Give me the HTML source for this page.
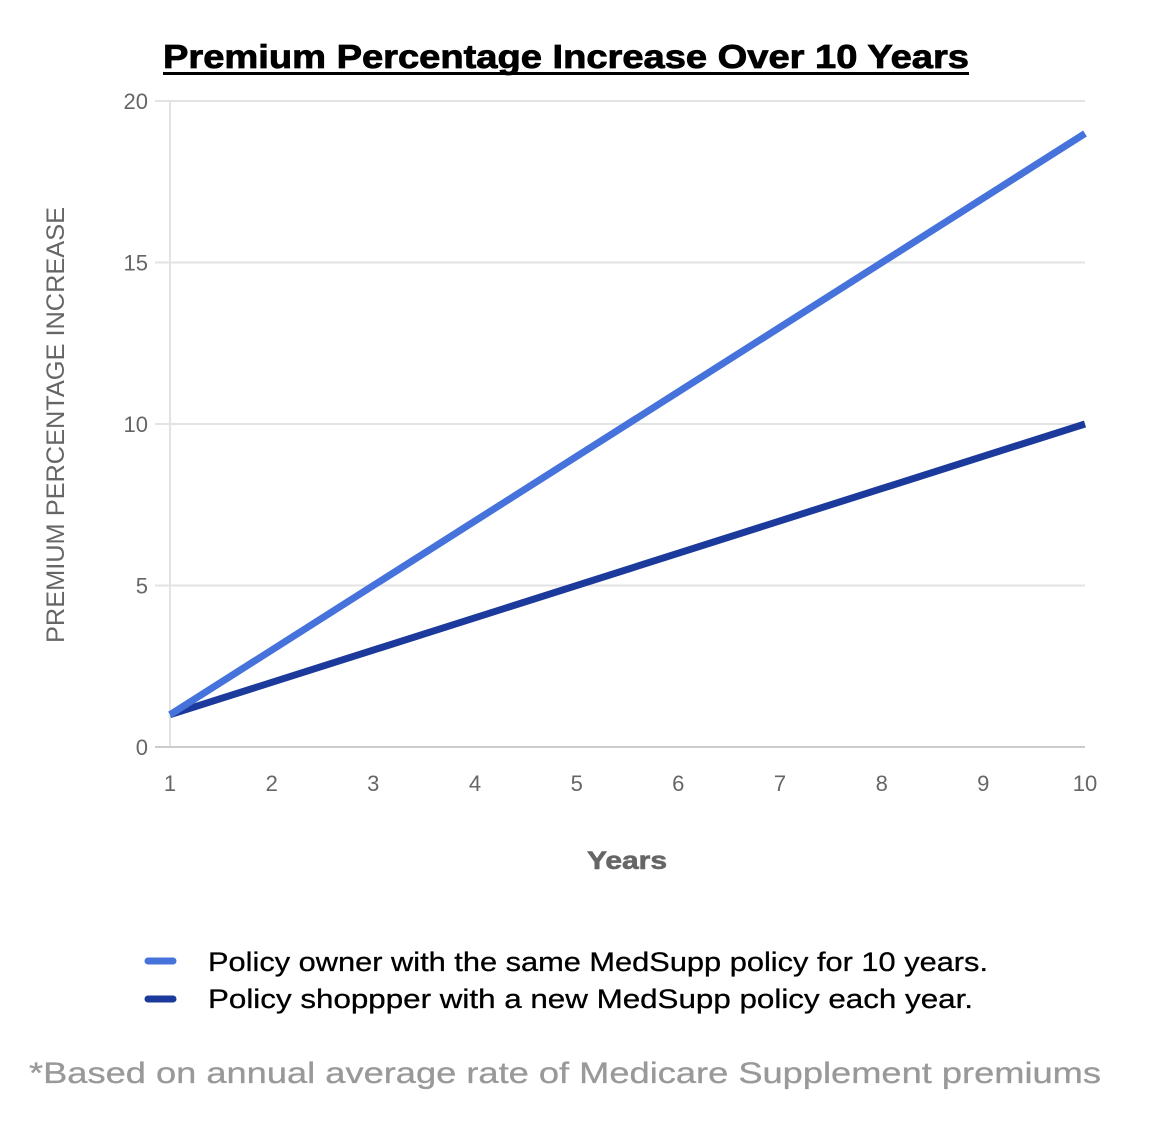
<!DOCTYPE html>
<html>
<head>
<meta charset="utf-8">
<style>
html,body{margin:0;padding:0;background:#fff;}
svg{display:block;}
text{font-family:"Liberation Sans",Arial,sans-serif;}
</style>
</head>
<body>
<svg width="1170" height="1134" viewBox="0 0 1170 1134" xmlns="http://www.w3.org/2000/svg">
<rect width="1170" height="1134" fill="#fff"/>
<!-- Title -->
<text x="163" y="68" font-size="33" font-weight="bold" fill="#000" stroke="#000" stroke-width="0.8" textLength="806" lengthAdjust="spacingAndGlyphs">Premium Percentage Increase Over 10 Years</text>
<line x1="163" y1="73.5" x2="969" y2="73.5" stroke="#000" stroke-width="3"/>

<!-- Gridlines -->
<g stroke="#e3e3e3" stroke-width="2">
<line x1="155" y1="101" x2="1085" y2="101"/>
<line x1="155" y1="262.5" x2="1085" y2="262.5"/>
<line x1="155" y1="424" x2="1085" y2="424"/>
<line x1="155" y1="585.5" x2="1085" y2="585.5"/>
<line x1="170" y1="101" x2="170" y2="747"/>
</g>
<line x1="155" y1="747" x2="1085" y2="747" stroke="#cccccc" stroke-width="2"/>

<!-- Y tick labels -->
<g font-size="22" fill="#666" text-anchor="end">
<text x="148" y="109">20</text>
<text x="148" y="270.5">15</text>
<text x="148" y="432">10</text>
<text x="148" y="593.5">5</text>
<text x="148" y="755">0</text>
</g>

<!-- X tick labels -->
<g font-size="22" fill="#666" text-anchor="middle">
<text x="170" y="791">1</text>
<text x="271.7" y="791">2</text>
<text x="373.3" y="791">3</text>
<text x="475" y="791">4</text>
<text x="576.7" y="791">5</text>
<text x="678.3" y="791">6</text>
<text x="780" y="791">7</text>
<text x="881.7" y="791">8</text>
<text x="983.3" y="791">9</text>
<text x="1085" y="791">10</text>
</g>

<!-- Y axis title -->
<text transform="translate(64,425) rotate(-90)" font-size="25" fill="#666" text-anchor="middle" textLength="436" lengthAdjust="spacingAndGlyphs">PREMIUM PERCENTAGE INCREASE</text>

<!-- X axis title -->
<text x="627" y="869" font-size="25" font-weight="bold" fill="#666" stroke="#666" stroke-width="0.6" text-anchor="middle" textLength="80" lengthAdjust="spacingAndGlyphs">Years</text>

<!-- Series -->
<line x1="170" y1="714.7" x2="1085" y2="424" stroke="#1b3a9b" stroke-width="7"/>
<line x1="170" y1="714.7" x2="1085" y2="133.5" stroke="#4672dc" stroke-width="7"/>

<!-- Legend -->
<line x1="148" y1="961" x2="173" y2="961" stroke="#4672dc" stroke-width="7" stroke-linecap="round"/>
<line x1="148" y1="999" x2="173" y2="999" stroke="#1b3a9b" stroke-width="7" stroke-linecap="round"/>
<text x="208" y="971" font-size="27" fill="#000" stroke="#000" stroke-width="0.3" textLength="780" lengthAdjust="spacingAndGlyphs">Policy owner with the same MedSupp policy for 10 years.</text>
<text x="208" y="1008" font-size="27" fill="#000" stroke="#000" stroke-width="0.3" textLength="765" lengthAdjust="spacingAndGlyphs">Policy shoppper with a new MedSupp policy each year.</text>

<!-- Footnote -->
<text x="29" y="1083" font-size="30" fill="#999" stroke="#999" stroke-width="0.3" textLength="1072" lengthAdjust="spacingAndGlyphs">*Based on annual average rate of Medicare Supplement premiums</text>
</svg>
</body>
</html>
